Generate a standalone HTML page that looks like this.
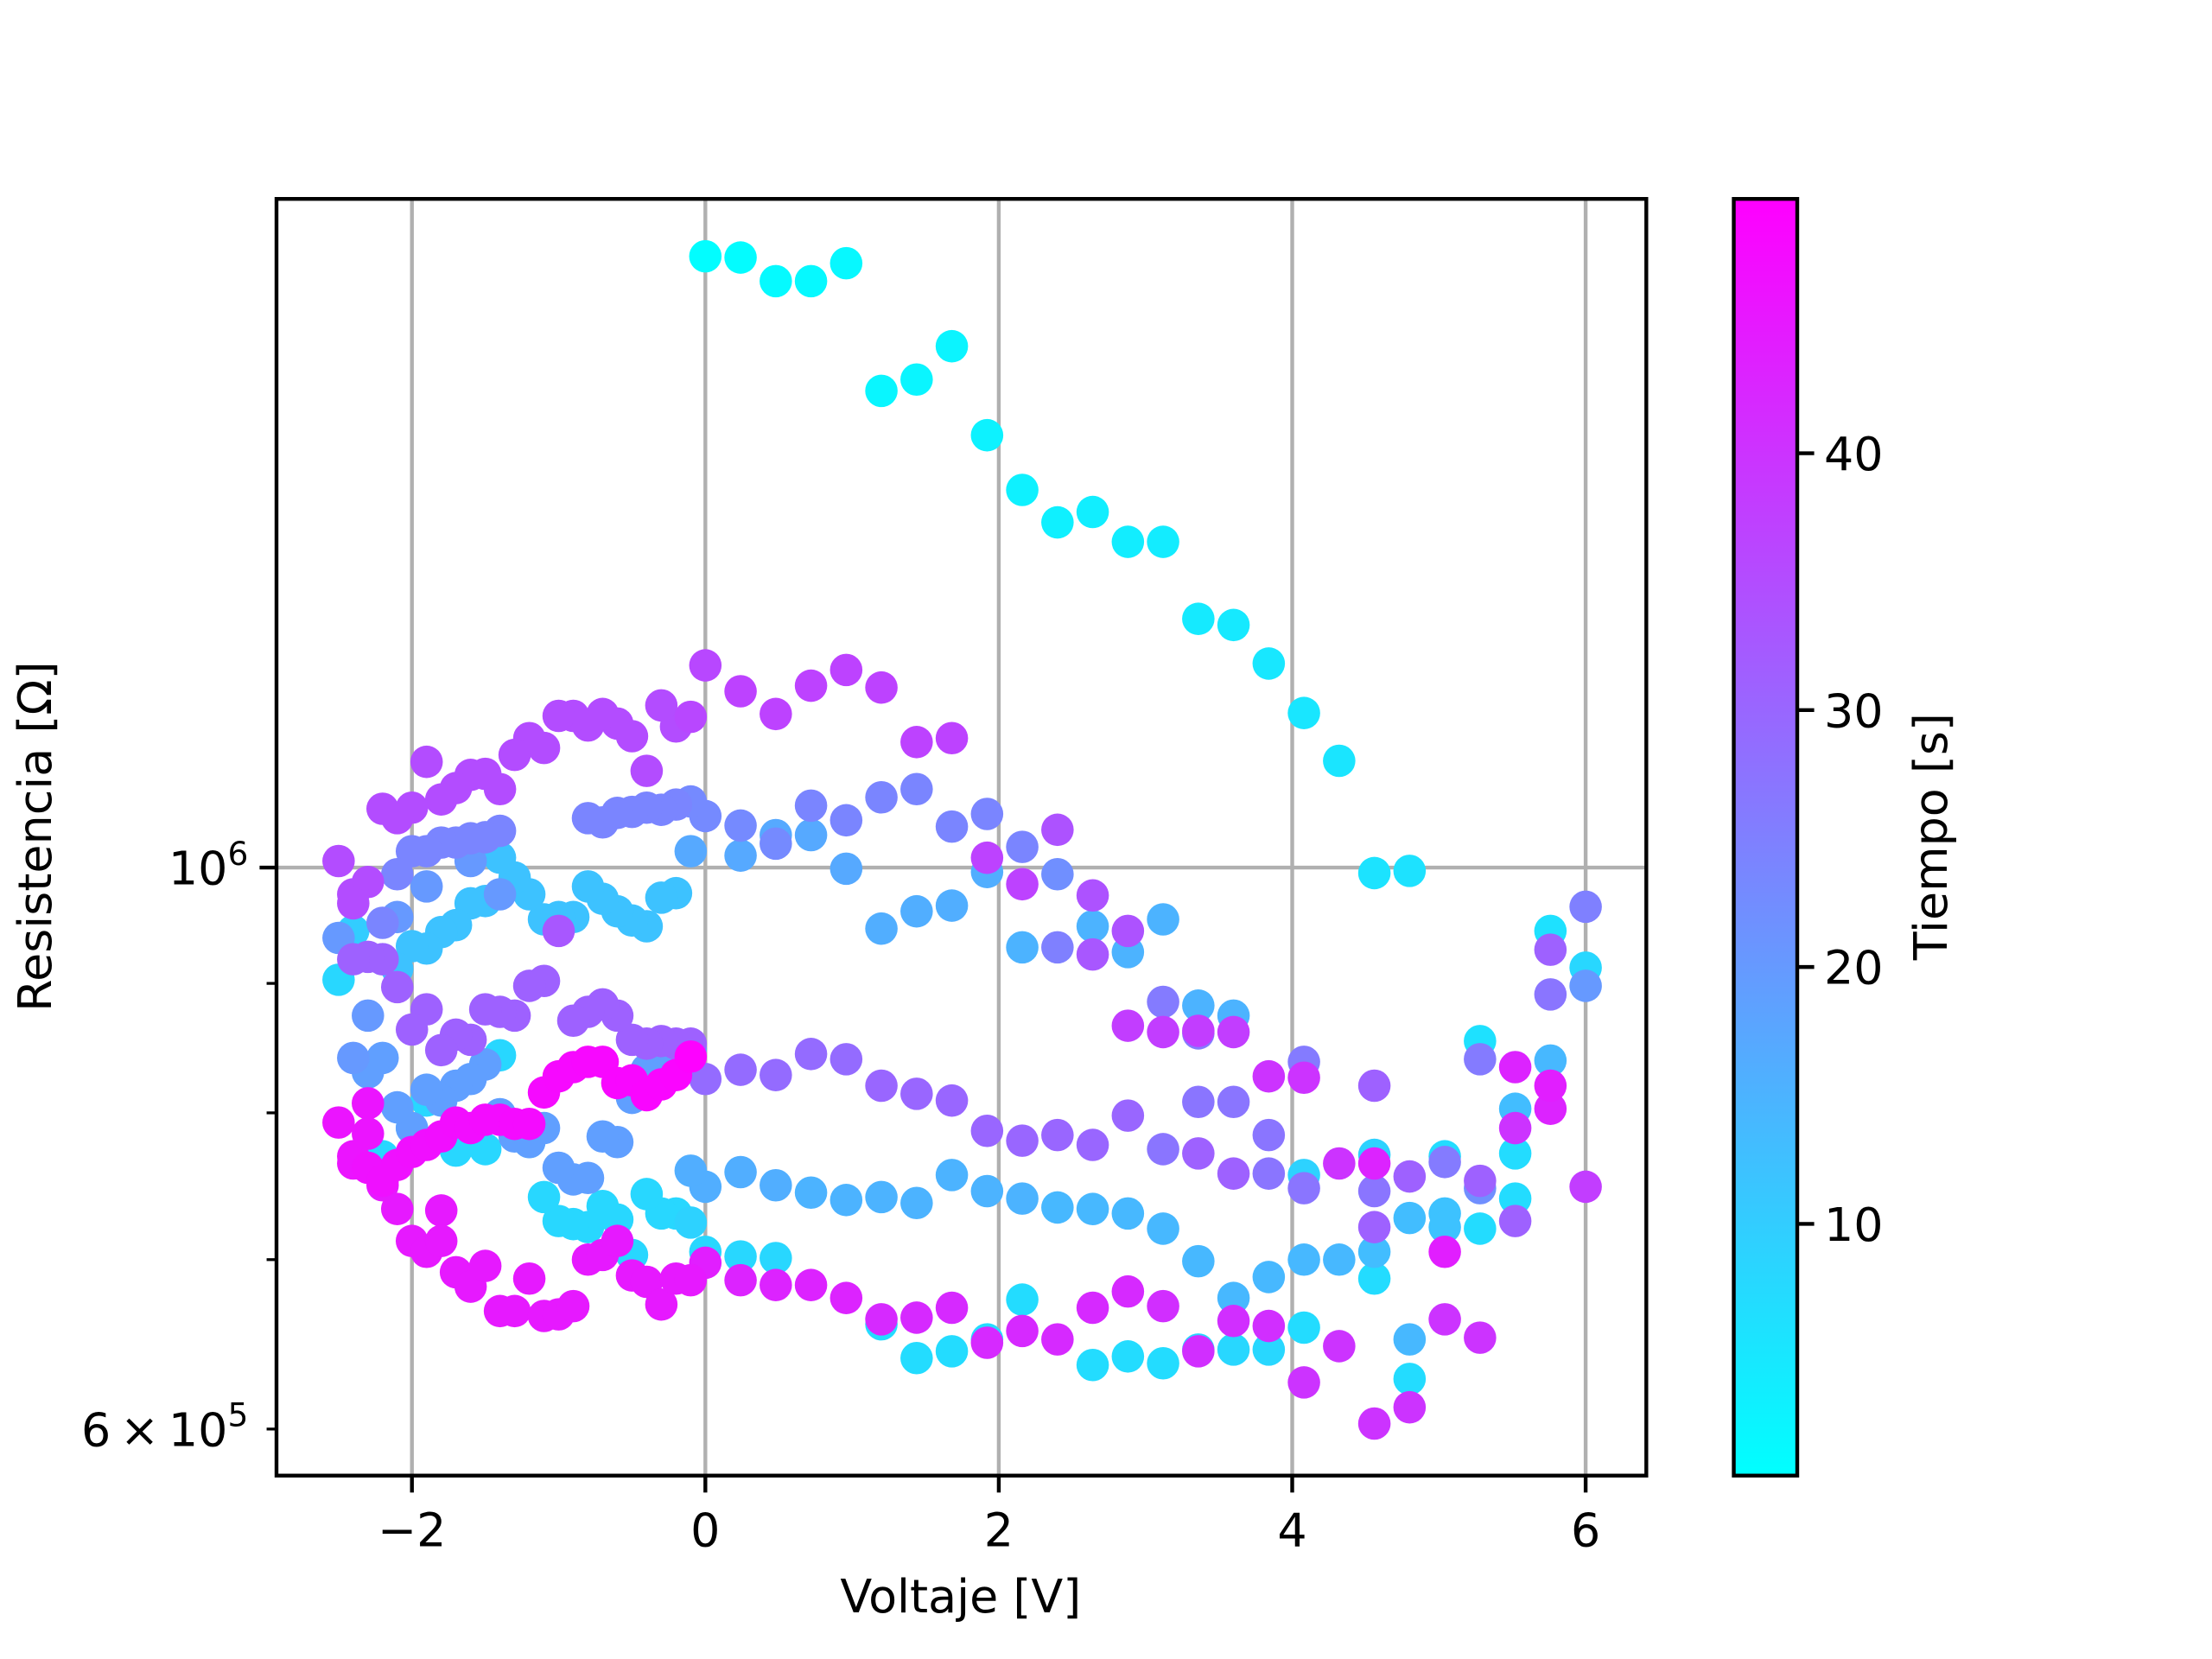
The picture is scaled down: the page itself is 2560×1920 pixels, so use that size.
<!DOCTYPE html>
<html><head><meta charset="utf-8"><style>
html,body{margin:0;padding:0;background:#fff;}
svg{display:block;font-family:"DejaVu Sans","Liberation Sans",sans-serif;}
</style></head><body>
<svg id="chart" width="2560" height="1920" viewBox="0 0 1568 1176" xmlns="http://www.w3.org/2000/svg">
<defs><linearGradient id="cool" x1="0" y1="1" x2="0" y2="0"><stop offset="0" stop-color="#00ffff"/><stop offset="1" stop-color="#ff00ff"/></linearGradient>
<clipPath id="clip"><rect x="196" y="141" width="971" height="905"/></clipPath></defs>
<rect x="0" y="0" width="1568" height="1176" fill="#fff"/>
<g id="grid"></g>
<g id="points" clip-path="url(#clip)"></g>
<rect x="196" y="141" width="971" height="905" fill="none" stroke="#000" stroke-width="2.7"/>
<g id="axes"></g>
<text x="681" y="1143" font-size="33" text-anchor="middle">Voltaje [V]</text>
<text transform="translate(36,593) rotate(-90)" font-size="33" text-anchor="middle">Resistencia [Ω]</text>
<rect x="1229" y="141" width="45" height="905" fill="url(#cool)" stroke="#000" stroke-width="2.7"/>
<g id="cbar"></g>
<text transform="translate(1380,593) rotate(-90)" font-size="33" text-anchor="middle">Tiempo [s]</text>
</svg>
<script>
// [voltage V, resistance kΩ, time s]
const sweepUpCyan=[[0,1744,0.5],[0.24,1742,0.8],[0.48,1705,1.1],[0.72,1705,1.3],[0.96,1733,1.6],[1.2,1543,1.9],[1.44,1559,2.1],[1.68,1607,2.4],[1.92,1482,2.7],[2.16,1410,2.9],[2.4,1369,3.2],[2.64,1382,3.5],[2.88,1345,3.7],[3.12,1345,4.0],[3.36,1254,4.3],[3.6,1247,4.5],[3.84,1204,4.8],[4.08,1151,5.1],[4.32,1102,5.3],[4.56,995,5.6],[4.8,997,5.9]];
const positiveSide=[[6,965,25],[6,913,8],[6,898,20],[6,748,38],[5.76,944,6],[5.76,928,31],[5.76,891,27],[5.76,839,14],[5.76,820,44],[5.76,803,43],[5.52,834,43],[5.52,789,40],[5.52,803,13],[5.52,771,7],[5.52,740,7],[5.52,725,31],[5.28,854,6],[5.28,840,26],[5.28,747,22],[5.28,752,31],[5.28,720,7],[5.28,652,40],[5.04,769,7],[5.04,765,26],[5.04,730,12],[5.04,721,12],[5.04,705,44],[5.04,663,40],[4.8,755,31],[4.8,727,13],[4.8,651,14],[4.8,628,7],[4.8,612,40],[4.56,820,31],[4.56,770,9],[4.56,764,43],[4.56,745,27],[4.56,721,31],[4.56,705,13],[4.56,688,7],[4.56,603,40],[4.32,764,40],[4.32,700,14],[4.32,647,40],[4.08,838,26],[4.08,826,40],[4.08,756,9],[4.08,747,27],[4.08,700,14],[4.08,658,7],[4.08,626,40],[3.84,827,40],[3.84,784,27],[3.84,757,27],[3.84,689,14],[3.84,645,8],[3.84,659,41],[3.6,874,15],[3.6,861,38],[3.6,808,27],[3.6,757,31],[3.6,676,14],[3.6,662,41],[3.6,645,8],[3.36,882,15],[3.36,862,38],[3.36,860,26],[3.36,808,27],[3.36,771,31],[3.36,699,14],[3.36,644,41],[3.36,645,8],[3.12,954,15],[3.12,885,26],[3.12,861,38],[3.12,774,27],[3.12,720,14],[3.12,671,41],[3.12,637,7],[2.88,944,34],[2.88,926,15],[2.88,866,38],[2.88,798,30],[2.88,730,14],[2.88,680,42],[2.88,641,7],[2.64,975,34],[2.64,948,15],[2.64,924,33],[2.64,777,30],[2.64,733,14],[2.64,670,42],[2.64,636,7],[2.4,1035,34],[2.4,994,22],[2.4,930,25],[2.4,784,30],[2.4,734,14],[2.4,651,42],[2.16,1019,24],[2.16,985,37],[2.16,930,15],[2.16,780,30],[2.16,740,15],[2.16,675,7],[2.16,656,42],[1.92,1050,24],[1.92,1009,37],[1.92,996,16],[1.92,787,30],[1.92,745,15],[1.92,651,7],[1.92,649,42],[1.68,1125,37],[1.68,1038,24],[1.68,966,16],[1.68,809,30],[1.68,756,15],[1.68,670,42],[1.68,644,7],[1.44,1121,37],[1.44,1074,24],[1.44,961,16],[1.44,814,30],[1.44,737,15],[1.44,664,42],[1.44,640,7],[1.2,1178,37],[1.2,1066,24],[1.2,946,16],[1.2,820,30],[1.2,741,15],[1.2,663,42],[1.2,660,7],[0.96,1197,37],[0.96,1044,24],[0.96,999,17],[0.96,840,29],[0.96,739,15],[0.96,676,43],[0.72,1180,37],[0.72,1058,24],[0.72,1030,17],[0.72,844,29],[0.72,744,15],[0.72,684,43],[0.48,1150,37],[0.48,1022,23],[0.48,1030,17],[0.48,828,29],[0.48,749,16],[0.48,684,43],[0.48,701,8],[0.24,1174,37],[0.24,1039,23],[0.24,1011,17],[0.24,832,29],[0.24,758,16],[0.24,687,43],[0.24,702,8],[0,1202,36],[0,1048,23],[0,825,29],[0,748,16],[0,698,44],[0,705,8],[-0.1,1015,17],[-0.1,1062,23],[-0.1,1147,36],[-0.1,759,16],[-0.1,724,9]];
const negUpperPurple=[[-0.2,1137,35],[-0.3,1159,35],[-0.4,1092,35],[-0.5,1127,35],[-0.6,1140,35],[-0.7,1150,35],[-0.8,1138,35],[-0.9,1148,35],[-1.0,1148,35],[-1.1,1115,35],[-1.2,1125,35],[-1.3,1108,35],[-1.4,1074,35],[-1.5,1089,35],[-1.6,1088,35],[-1.7,1075,35],[-1.8,1064,35],[-1.9,1101,35],[-2.0,1056,35],[-2.1,1046,35],[-2.2,1055,35],[-2.3,987,35],[-2.4,976,35],[-2.4,968,35],[-2.5,1006,35]];
const negViolet=[[-0.2,1059,24],[-0.3,1054,24],[-0.4,1056,24],[-0.5,1052,24],[-0.6,1051,24],[-0.7,1042,24],[-0.8,1046,24],[-1.4,1034,24],[-1.5,1028,24],[-1.6,1027,24],[-1.7,1023,24],[-1.8,1023,24],[-1.9,1015,24],[-2.0,1015,24],[-2.1,994,24],[-2.2,951,24],[-1.0,944,33],[-1.4,976,20],[-1.6,1006,20],[-1.9,983,20],[-2.1,956,20],[-2.2,920,20],[-2.3,874,20],[-2.4,841,20],[-2.5,938,20]];
const negLightBlue=[[-0.2,977,12],[-0.3,973,12],[-0.4,948,12],[-0.5,953,12],[-0.6,961,12],[-0.7,972,12],[-0.8,983,12],[-0.9,956,12],[-1.0,956,12],[-1.1,954,12],[-1.2,976,12],[-1.3,991,12],[-1.4,1009,12],[-1.5,970,12],[-1.6,968,12],[-1.7,949,12],[-1.8,943,12],[-1.9,929,12],[-2.0,931,12],[-2.1,912,12],[-2.5,903,8],[-2.4,944,10]];
const negBlueLow=[[-0.1,848,19],[-0.2,841,19],[-0.3,845,19],[-0.4,832,19],[-0.5,811,19],[-0.6,779,19],[-0.7,783,19],[-0.8,754,19],[-0.9,753,19],[-1.0,761,19],[-1.1,789,19],[-1.2,779,19],[-1.3,783,19],[-1.4,799,19],[-1.5,836,19],[-1.6,825,19],[-1.7,820,19],[-1.8,809,19],[-1.9,817,19],[-2.0,789,19],[-2.1,804,19],[-2.2,841,19],[-2.3,830,19]];
const negCyanLow=[[-0.2,730,8],[-0.3,730,8],[-0.4,743,8],[-0.5,703,8],[-0.6,726,8],[-0.7,735,8],[-0.8,721,8],[-0.9,723,8],[-1.0,725,8],[-1.1,741,8],[-1.2,779,8],[-1.3,789,8],[-1.4,843,8],[-1.5,774,8],[-1.7,773,8],[-1.9,809,8],[-2.0,789,8],[-2.2,769,8]];
const negPurpleMid=[[-0.1,852,31],[-0.2,852,31],[-0.3,854,31],[-0.4,852,31],[-0.5,855,31],[-0.6,874,31],[-0.7,883,31],[-0.8,877,31],[-0.9,870,31],[-1.1,902,31],[-1.2,898,31],[-1.3,874,31],[-1.4,877,31],[-1.5,879,31],[-1.6,855,31],[-1.7,859,31],[-1.8,847,31],[-1.9,879,31],[-2.0,863,31],[-2.1,897,31],[-2.2,920,31],[-2.3,922,31],[-2.4,920,31]];
const negMagentaLow=[[-2.5,793,46],[-2.4,769,46],[-2.4,764,46],[-2.3,807,46],[-2.3,785,46],[-2.2,749,45],[-2.1,733,45],[-2.0,712,45],[-1.9,705,45],[-1.8,732,45],[-1.8,712,45],[-1.7,692,45],[-1.6,683,45],[-1.5,696,45],[-1.4,668,45],[-1.3,668,45],[-1.2,688,45],[-1.1,665,45],[-1.0,666,45],[-0.9,671,45],[-0.8,700,45],[-0.7,703,45],[-0.6,712,45],[-0.5,690,45],[-0.4,686,45],[-0.3,672,45],[-0.2,688,45],[-0.1,687,45]];
const negMagentaUpper=[[-2.3,761,46.6],[-2.2,752,46.7],[-2.1,763,46.8],[-2.0,772,46.9],[-1.9,777,47],[-1.8,783,47.2],[-1.7,793,47.3],[-1.6,789,47.4],[-1.5,795,47.5],[-1.4,795,47.6],[-1.3,792,47.7],[-1.2,792,47.8],[-1.1,815,48],[-1.0,827,48.1],[-0.9,834,48.2],[-0.8,838,48.3],[-0.7,838,48.4],[-0.6,822,48.5],[-0.5,824,48.6],[-0.4,813,48.7],[-0.3,821,48.8],[-0.2,828,49],[-0.1,842,49.5]];
const xTicks=[-2,0,2,4,6];
const cbarTicks=[10,20,30,40];
const T_MIN=0.2, T_MAX=49.9;

const NS="http://www.w3.org/2000/svg";
const L=196,R=1167,TOP=141,B=1046;
function X(v){return 500+104*v;}
function Y(rk){return 615-1794*Math.log10(rk*1000/1e6);}
function CY(t){return B-(t-T_MIN)/(T_MAX-T_MIN)*(B-TOP);}
function cool(t){const f=Math.max(0,Math.min(1,(t-T_MIN)/(T_MAX-T_MIN)));return `rgb(${Math.round(255*f)},${Math.round(255*(1-f))},255)`;}
function mk(tag,attrs,parent){const e=document.createElementNS(NS,tag);for(const k in attrs)e.setAttribute(k,attrs[k]);parent.appendChild(e);return e;}
const grid=document.getElementById('grid'),axes=document.getElementById('axes'),pts=document.getElementById('points'),cb=document.getElementById('cbar');
xTicks.forEach(v=>{
 const gl=mk('line',{x1:X(v),x2:X(v),y1:TOP,y2:B,stroke:'#b0b0b0','stroke-width':2.7},grid);
 
 
 const tk=mk('line',{x1:X(v),x2:X(v),y1:B,y2:B+12,stroke:'#000','stroke-width':2.7},axes);
 
 
 const tx=mk('text',{x:X(v),y:B+50,'font-size':33,'text-anchor':'middle'},axes);
 tx.textContent=(v<0?'\u2212':'')+Math.abs(v);
 
 
});
// y major grid at 1e6
const yg=mk('line',{x1:L,x2:R,y1:Y(1000),y2:Y(1000),stroke:'#b0b0b0','stroke-width':2.7},grid);


const ymt=mk('line',{x1:L-12,x2:L,y1:Y(1000),y2:Y(1000),stroke:'#000','stroke-width':2.7},axes);


const yl=mk('text',{x:L-20,y:Y(1000)+12,'font-size':33,'text-anchor':'end'},axes);
yl.innerHTML='10<tspan dy="-14" font-size="23">6</tspan>';


[600,700,800,900].forEach(r=>{
 const m=mk('line',{x1:L-7,x2:L,y1:Y(r),y2:Y(r),stroke:'#000','stroke-width':2},axes);
 
 
});
const y6=mk('text',{x:L-20,y:Y(600)+12,'font-size':33,'text-anchor':'end'},axes);
y6.innerHTML='6\u2009\u00d7\u200910<tspan dy="-14" font-size="23">5</tspan>';


cbarTicks.forEach(t=>{
 const l=mk('line',{x1:1274,x2:1286,y1:CY(t),y2:CY(t),stroke:'#000','stroke-width':2.7},cb);
 
 
 const s=mk('text',{x:1293,y:CY(t)+12,'font-size':33},cb);
 s.textContent=t;
 
 
});
const all=[].concat(sweepUpCyan,positiveSide,negUpperPurple,negViolet,negLightBlue,negBlueLow,negCyanLow,negPurpleMid,negMagentaLow,negMagentaUpper);
all.sort((a,b)=>a[2]-b[2]);
all.forEach(p=>{
 const c=mk('circle',{cx:X(p[0]),cy:Y(p[1]),r:11.5,fill:cool(p[2])},pts);
 
 
});
</script>
</body></html>
